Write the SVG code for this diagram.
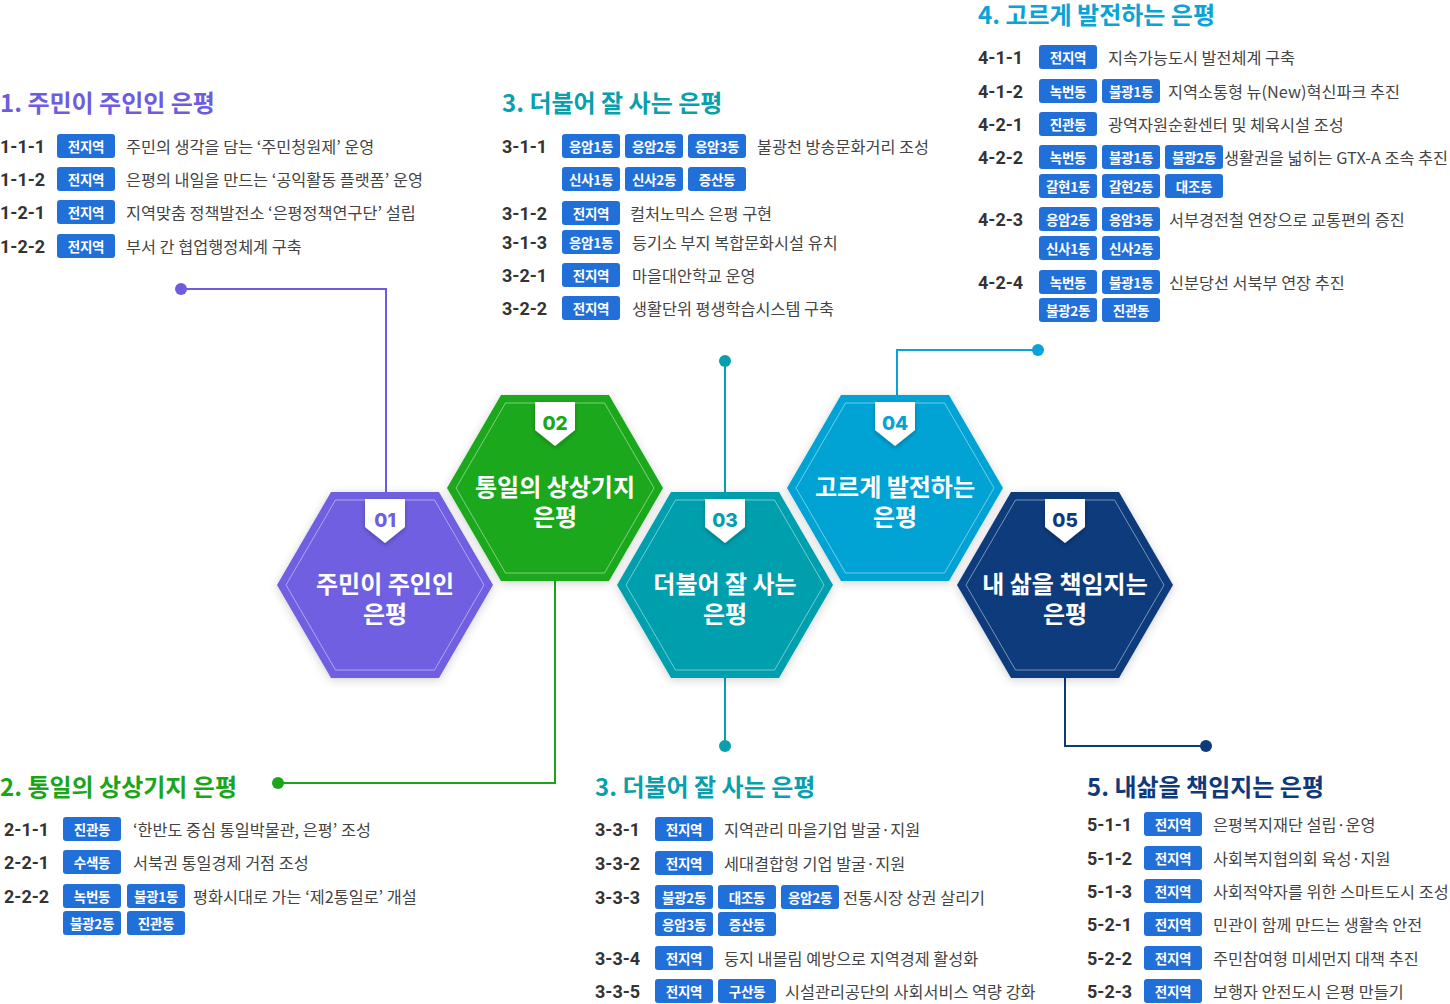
<svg xmlns="http://www.w3.org/2000/svg" xmlns:xlink="http://www.w3.org/1999/xlink" width="1450" height="1004" viewBox="0 0 1450 1004">
<style>
text{font-family:"Noto Sans CJK KR","Noto Sans",sans-serif;dominant-baseline:central}
.t{font-size:24px;font-weight:700}
.c{font-family:Roboto,"Noto Sans CJK KR",sans-serif;font-size:18px;font-weight:700;fill:#333}
.b{fill:#2170d9}
.bt{font-size:13.5px;font-weight:700;fill:#fff;text-anchor:middle;letter-spacing:-0.3px}
.d{font-size:16.3px;fill:#444}
.hl{font-size:24px;font-weight:700;fill:#fff;text-anchor:middle;dominant-baseline:auto}
.num{font-family:Inter,"Noto Sans",sans-serif;font-size:19px;font-weight:800;text-anchor:middle;dominant-baseline:auto}
.in{fill:none;stroke:#fff;stroke-opacity:0.45;stroke-width:1}
.ln{fill:none;stroke-width:2}
</style>
<defs>
<path id="hex" d="M-108 0 L-54 -93 L54 -93 L108 0 L54 93 L-54 93 Z"/>
<path id="hexIn" d="M-99 0 L-49.5 -85 L49.5 -85 L99 0 L49.5 85 L-49.5 85 Z"/>
<path id="badge" d="M-20 -86 L20 -86 L20 -58 L0 -42 L-20 -58 Z"/>
<filter id="sh" x="-20%" y="-20%" width="140%" height="140%"><feDropShadow dx="0" dy="2" stdDeviation="5" flood-color="#000" flood-opacity="0.18"/></filter>
<filter id="bsh" x="-50%" y="-50%" width="200%" height="200%"><feDropShadow dx="0" dy="2" stdDeviation="2" flood-color="#000" flood-opacity="0.25"/></filter>
<rect id="bx" width="58" height="24" rx="3" class="b"/>
</defs>

<g id="connectors">
<polyline class="ln" stroke="#6e5ce0" points="181,289 386,289 386,493"/>
<circle cx="181" cy="289" r="6" fill="#6e5ce0"/>
<polyline class="ln" stroke="#1aa51a" points="555,581 555,783 278,783"/>
<circle cx="278" cy="783" r="6" fill="#1aa51a"/>
<polyline class="ln" stroke="#0a9fad" points="725,361 725,493"/>
<circle cx="725" cy="361" r="6" fill="#0a9fad"/>
<polyline class="ln" stroke="#0a9fad" points="725,678 725,746"/>
<circle cx="725" cy="746" r="6" fill="#0a9fad"/>
<polyline class="ln" stroke="#0aa3d5" points="897,396 897,350 1038,350"/>
<circle cx="1038" cy="350" r="6" fill="#0aa3d5"/>
<polyline class="ln" stroke="#0e3a7b" points="1065,678 1065,746 1206,746"/>
<circle cx="1206" cy="746" r="6" fill="#0e3a7b"/>
</g>

<g id="node-02" transform="translate(555,488)">
<use xlink:href="#hex" fill="#1aa81a" filter="url(#sh)"/>
<use xlink:href="#hexIn" class="in"/>
<use xlink:href="#badge" fill="#fff" filter="url(#bsh)"/>
<text class="num" x="0" y="-58" fill="#1aa81a">02</text>
<text class="hl" x="0" y="8">통일의 상상기지</text>
<text class="hl" x="0" y="38">은평</text>
</g>
<g id="node-04" transform="translate(895,488)">
<use xlink:href="#hex" fill="#04a3d4" filter="url(#sh)"/>
<use xlink:href="#hexIn" class="in"/>
<use xlink:href="#badge" fill="#fff" filter="url(#bsh)"/>
<text class="num" x="0" y="-58" fill="#04a3d4">04</text>
<text class="hl" x="0" y="8">고르게 발전하는</text>
<text class="hl" x="0" y="38">은평</text>
</g>
<g id="node-01" transform="translate(385,585)">
<use xlink:href="#hex" fill="#6f5ee0" filter="url(#sh)"/>
<use xlink:href="#hexIn" class="in"/>
<use xlink:href="#badge" fill="#fff" filter="url(#bsh)"/>
<text class="num" x="0" y="-58" fill="#6f5ee0">01</text>
<text class="hl" x="0" y="8">주민이 주인인</text>
<text class="hl" x="0" y="38">은평</text>
</g>
<g id="node-03" transform="translate(725,585)">
<use xlink:href="#hex" fill="#049fad" filter="url(#sh)"/>
<use xlink:href="#hexIn" class="in"/>
<use xlink:href="#badge" fill="#fff" filter="url(#bsh)"/>
<text class="num" x="0" y="-58" fill="#049fad">03</text>
<text class="hl" x="0" y="8">더불어 잘 사는</text>
<text class="hl" x="0" y="38">은평</text>
</g>
<g id="node-05" transform="translate(1065,585)">
<use xlink:href="#hex" fill="#0e3a7b" filter="url(#sh)"/>
<use xlink:href="#hexIn" class="in"/>
<use xlink:href="#badge" fill="#fff" filter="url(#bsh)"/>
<text class="num" x="0" y="-58" fill="#0e3a7b">05</text>
<text class="hl" x="0" y="8">내 삶을 책임지는</text>
<text class="hl" x="0" y="38">은평</text>
</g>

<g id="section-1">
<text class="t" x="0" y="101" fill="#6e5ce0">1. 주민이 주인인 은평</text>
<text class="c" x="0" y="146">1-1-1</text><use xlink:href="#bx" x="57" y="134"/><text class="bt" x="86" y="146">전지역</text><text class="d" x="126" y="146">주민의 생각을 담는 ‘주민청원제’ 운영</text>
<text class="c" x="0" y="179">1-1-2</text><use xlink:href="#bx" x="57" y="167"/><text class="bt" x="86" y="179">전지역</text><text class="d" x="126" y="179">은평의 내일을 만드는 ‘공익활동 플랫폼’ 운영</text>
<text class="c" x="0" y="212">1-2-1</text><use xlink:href="#bx" x="57" y="200"/><text class="bt" x="86" y="212">전지역</text><text class="d" x="126" y="212">지역맞춤 정책발전소 ‘은평정책연구단’ 설립</text>
<text class="c" x="0" y="246">1-2-2</text><use xlink:href="#bx" x="57" y="234"/><text class="bt" x="86" y="246">전지역</text><text class="d" x="126" y="246">부서 간 협업행정체계 구축</text>
</g>

<g id="section-3a">
<text class="t" x="502" y="101" fill="#0a9fad">3. 더불어 잘 사는 은평</text>
<text class="c" x="502" y="146">3-1-1</text>
<use xlink:href="#bx" x="562" y="134"/><text class="bt" x="591" y="146">응암1동</text>
<use xlink:href="#bx" x="625" y="134"/><text class="bt" x="654" y="146">응암2동</text>
<use xlink:href="#bx" x="688" y="134"/><text class="bt" x="717" y="146">응암3동</text>
<text class="d" x="757" y="146">불광천 방송문화거리 조성</text>
<use xlink:href="#bx" x="562" y="167"/><text class="bt" x="591" y="179">신사1동</text>
<use xlink:href="#bx" x="625" y="167"/><text class="bt" x="654" y="179">신사2동</text>
<use xlink:href="#bx" x="688" y="167"/><text class="bt" x="717" y="179">증산동</text>
<text class="c" x="502" y="213">3-1-2</text><use xlink:href="#bx" x="562" y="201"/><text class="bt" x="591" y="213">전지역</text><text class="d" x="630" y="213">컬처노믹스 은평 구현</text>
<text class="c" x="502" y="242">3-1-3</text><use xlink:href="#bx" x="562" y="230"/><text class="bt" x="591" y="242">응암1동</text><text class="d" x="632" y="242">등기소 부지 복합문화시설 유치</text>
<text class="c" x="502" y="275">3-2-1</text><use xlink:href="#bx" x="562" y="263"/><text class="bt" x="591" y="275">전지역</text><text class="d" x="632" y="275">마을대안학교 운영</text>
<text class="c" x="502" y="308">3-2-2</text><use xlink:href="#bx" x="562" y="296"/><text class="bt" x="591" y="308">전지역</text><text class="d" x="632" y="308">생활단위 평생학습시스템 구축</text>
</g>

<g id="section-4">
<text class="t" x="978" y="13" fill="#0aa3d5">4. 고르게 발전하는 은평</text>
<text class="c" x="978" y="57">4-1-1</text><use xlink:href="#bx" x="1039" y="45"/><text class="bt" x="1068" y="57">전지역</text><text class="d" x="1108" y="57">지속가능도시 발전체계 구축</text>
<text class="c" x="978" y="91">4-1-2</text><use xlink:href="#bx" x="1039" y="79"/><text class="bt" x="1068" y="91">녹번동</text><use xlink:href="#bx" x="1102" y="79"/><text class="bt" x="1131" y="91">불광1동</text><text class="d" x="1168" y="91">지역소통형 뉴(New)혁신파크 추진</text>
<text class="c" x="978" y="124">4-2-1</text><use xlink:href="#bx" x="1039" y="112"/><text class="bt" x="1068" y="124">진관동</text><text class="d" x="1108" y="124">광역자원순환센터 및 체육시설 조성</text>
<text class="c" x="978" y="157">4-2-2</text><use xlink:href="#bx" x="1039" y="145"/><text class="bt" x="1068" y="157">녹번동</text><use xlink:href="#bx" x="1102" y="145"/><text class="bt" x="1131" y="157">불광1동</text><use xlink:href="#bx" x="1165" y="145"/><text class="bt" x="1194" y="157">불광2동</text><text class="d" x="1224" y="157">생활권을 넓히는 GTX-A 조속 추진</text>
<use xlink:href="#bx" x="1039" y="174"/><text class="bt" x="1068" y="186">갈현1동</text><use xlink:href="#bx" x="1102" y="174"/><text class="bt" x="1131" y="186">갈현2동</text><use xlink:href="#bx" x="1165" y="174"/><text class="bt" x="1194" y="186">대조동</text>
<text class="c" x="978" y="219">4-2-3</text><use xlink:href="#bx" x="1039" y="207"/><text class="bt" x="1068" y="219">응암2동</text><use xlink:href="#bx" x="1102" y="207"/><text class="bt" x="1131" y="219">응암3동</text><text class="d" x="1169" y="219">서부경전철 연장으로 교통편의 증진</text>
<use xlink:href="#bx" x="1039" y="236"/><text class="bt" x="1068" y="248">신사1동</text><use xlink:href="#bx" x="1102" y="236"/><text class="bt" x="1131" y="248">신사2동</text>
<text class="c" x="978" y="282">4-2-4</text><use xlink:href="#bx" x="1039" y="270"/><text class="bt" x="1068" y="282">녹번동</text><use xlink:href="#bx" x="1102" y="270"/><text class="bt" x="1131" y="282">불광1동</text><text class="d" x="1169" y="282">신분당선 서북부 연장 추진</text>
<use xlink:href="#bx" x="1039" y="298"/><text class="bt" x="1068" y="310">불광2동</text><use xlink:href="#bx" x="1102" y="298"/><text class="bt" x="1131" y="310">진관동</text>
</g>

<g id="section-2">
<text class="t" x="0" y="785" fill="#1aa51a">2. 통일의 상상기지 은평</text>
<text class="c" x="4" y="829">2-1-1</text><use xlink:href="#bx" x="63" y="817"/><text class="bt" x="92" y="829">진관동</text><text class="d" x="133" y="829">‘한반도 중심 통일박물관, 은평’ 조성</text>
<text class="c" x="4" y="862">2-2-1</text><use xlink:href="#bx" x="63" y="850"/><text class="bt" x="92" y="862">수색동</text><text class="d" x="133" y="862">서북권 통일경제 거점 조성</text>
<text class="c" x="4" y="896">2-2-2</text><use xlink:href="#bx" x="63" y="884"/><text class="bt" x="92" y="896">녹번동</text><use xlink:href="#bx" x="127" y="884"/><text class="bt" x="156" y="896">불광1동</text><text class="d" x="193" y="896">평화시대로 가는 ‘제2통일로’ 개설</text>
<use xlink:href="#bx" x="63" y="911"/><text class="bt" x="92" y="923">불광2동</text><use xlink:href="#bx" x="127" y="911"/><text class="bt" x="156" y="923">진관동</text>
</g>

<g id="section-3b">
<text class="t" x="595" y="785" fill="#0a9fad">3. 더불어 잘 사는 은평</text>
<text class="c" x="595" y="829">3-3-1</text><use xlink:href="#bx" x="655" y="817"/><text class="bt" x="684" y="829">전지역</text><text class="d" x="724" y="829">지역관리 마을기업 발굴·지원</text>
<text class="c" x="595" y="863">3-3-2</text><use xlink:href="#bx" x="655" y="851"/><text class="bt" x="684" y="863">전지역</text><text class="d" x="724" y="863">세대결합형 기업 발굴·지원</text>
<text class="c" x="595" y="897">3-3-3</text><use xlink:href="#bx" x="655" y="885"/><text class="bt" x="684" y="897">불광2동</text><use xlink:href="#bx" x="718" y="885"/><text class="bt" x="747" y="897">대조동</text><use xlink:href="#bx" x="781" y="885"/><text class="bt" x="810" y="897">응암2동</text><text class="d" x="843" y="897">전통시장 상권 살리기</text>
<use xlink:href="#bx" x="655" y="912"/><text class="bt" x="684" y="924">응암3동</text><use xlink:href="#bx" x="718" y="912"/><text class="bt" x="747" y="924">증산동</text>
<text class="c" x="595" y="958">3-3-4</text><use xlink:href="#bx" x="655" y="946"/><text class="bt" x="684" y="958">전지역</text><text class="d" x="724" y="958">둥지 내몰림 예방으로 지역경제 활성화</text>
<text class="c" x="595" y="991">3-3-5</text><use xlink:href="#bx" x="655" y="979"/><text class="bt" x="684" y="991">전지역</text><use xlink:href="#bx" x="718" y="979"/><text class="bt" x="747" y="991">구산동</text><text class="d" x="785" y="991">시설관리공단의 사회서비스 역량 강화</text>
</g>

<g id="section-5">
<text class="t" x="1087" y="785" fill="#0e3a7b">5. 내삶을 책임지는 은평</text>
<text class="c" x="1087" y="824">5-1-1</text><use xlink:href="#bx" x="1144" y="812"/><text class="bt" x="1173" y="824">전지역</text><text class="d" x="1213" y="824">은평복지재단 설립·운영</text>
<text class="c" x="1087" y="858">5-1-2</text><use xlink:href="#bx" x="1144" y="846"/><text class="bt" x="1173" y="858">전지역</text><text class="d" x="1213" y="858">사회복지협의회 육성·지원</text>
<text class="c" x="1087" y="891">5-1-3</text><use xlink:href="#bx" x="1144" y="879"/><text class="bt" x="1173" y="891">전지역</text><text class="d" x="1213" y="891">사회적약자를 위한 스마트도시 조성</text>
<text class="c" x="1087" y="924">5-2-1</text><use xlink:href="#bx" x="1144" y="912"/><text class="bt" x="1173" y="924">전지역</text><text class="d" x="1213" y="924">민관이 함께 만드는 생활속 안전</text>
<text class="c" x="1087" y="958">5-2-2</text><use xlink:href="#bx" x="1144" y="946"/><text class="bt" x="1173" y="958">전지역</text><text class="d" x="1213" y="958">주민참여형 미세먼지 대책 추진</text>
<text class="c" x="1087" y="991">5-2-3</text><use xlink:href="#bx" x="1144" y="979"/><text class="bt" x="1173" y="991">전지역</text><text class="d" x="1213" y="991">보행자 안전도시 은평 만들기</text>
</g>
</svg>
